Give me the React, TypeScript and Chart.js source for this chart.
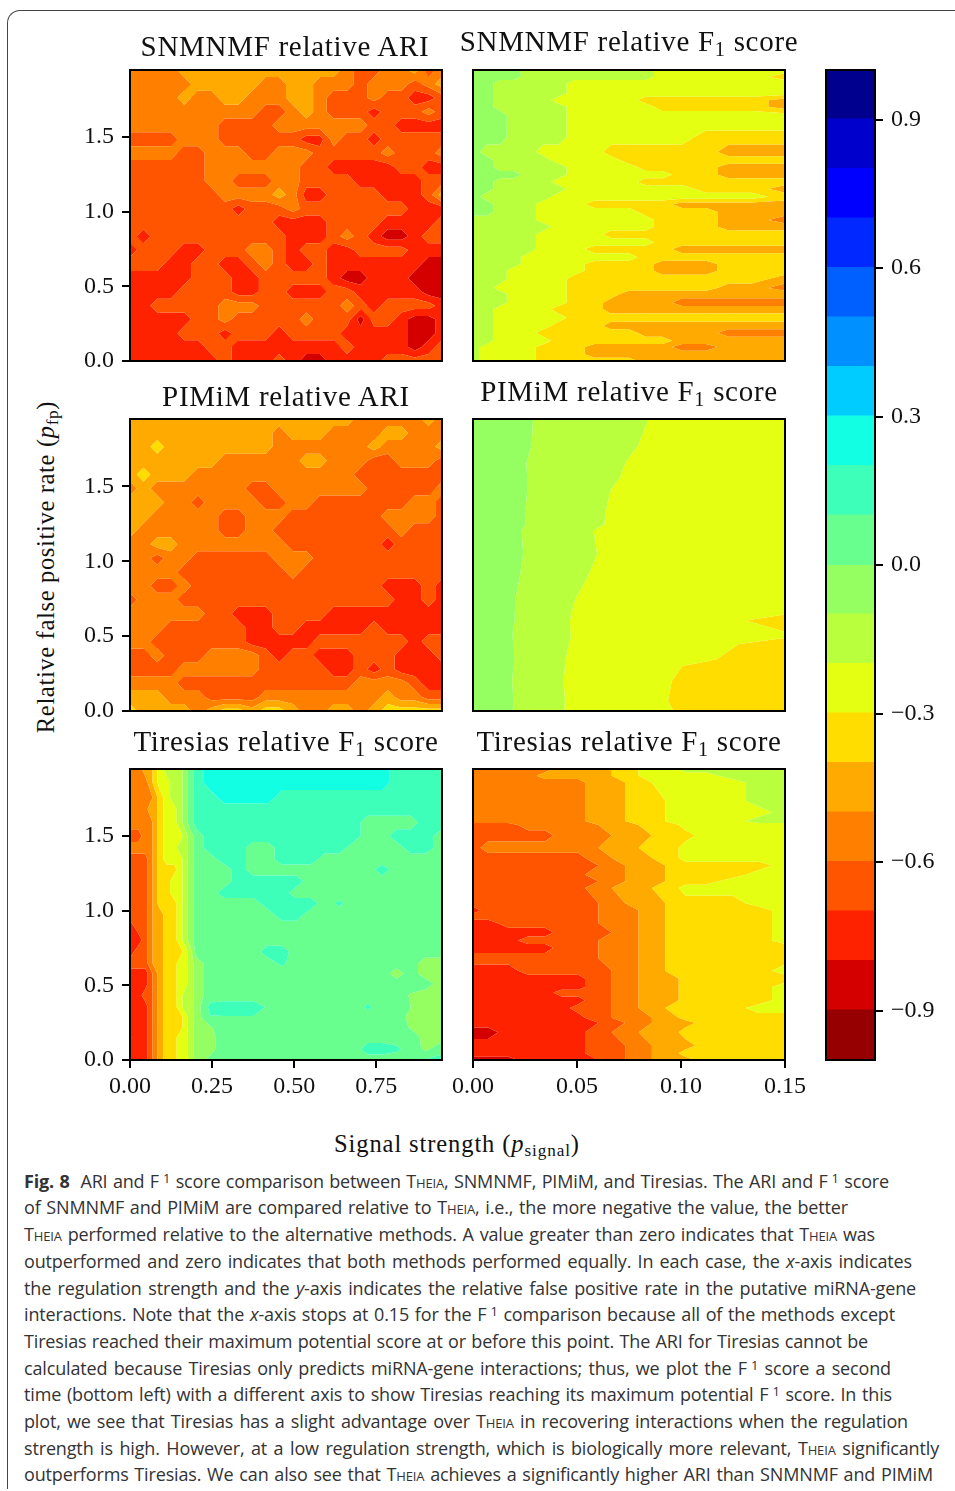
import React, { useEffect, useRef } from "react";
import { Chart, registerables } from "chart.js";

Chart.register(...registerables);

// Contour levels and their colours (bottom to top of the colour bar)
const levels = [-1, -0.9, -0.8, -0.7, -0.6, -0.5, -0.4, -0.3, -0.2, -0.1, 0, 0.1, 0.2, 0.3, 0.4, 0.5, 0.6, 0.7, 0.8, 0.9, 1];
const bandColors = ["#960000", "#d40000", "#ff2200", "#ff5500", "#ff8000", "#ffaa00", "#ffdd00", "#e4ff12", "#b9ff3e", "#95ff62", "#69ff8e", "#3effb9", "#12ffe4", "#00ccff", "#0090ff", "#0060ff", "#0028ff", "#0000ff", "#0000cd", "#00008f"];
const colorbarTicks = [-0.9, -0.6, -0.3, 0, 0.3, 0.6, 0.9];
const yTicks = [0, 0.5, 1, 1.5];
const xTicksWide = [0, 0.25, 0.5, 0.75];
const xTicksNarrow = [0, 0.05, 0.1, 0.15];

// Grid axes. Cell values are colour-band numbers (0 = -1..-0.9, 19 = 0.9..1)
const ariX = [0, 0.041, 0.083, 0.124, 0.165, 0.207, 0.248, 0.289, 0.33, 0.372, 0.413, 0.454, 0.496, 0.537, 0.578, 0.62, 0.661, 0.702, 0.743, 0.785, 0.826, 0.867, 0.909, 0.95];
const ariY = [1.95, 1.857, 1.764, 1.671, 1.579, 1.486, 1.393, 1.3, 1.207, 1.114, 1.021, 0.929, 0.836, 0.743, 0.65, 0.557, 0.464, 0.371, 0.279, 0.186, 0.093, 0];

const snmnmfAri = [
  [4,4,4,4,5,5,5,5,5,5,5,5,5,5,5,5,4,3,3,4,4,5,3,4],
  [4,4,4,4,4,5,5,5,5,5,4,4,5,5,4,4,4,3,4,4,4,3,4,5],
  [4,4,4,4,5,4,4,5,5,4,4,4,5,5,4,3,3,3,4,3,3,2,2,3],
  [4,4,4,4,4,4,4,4,4,4,3,3,4,5,4,3,3,3,2,3,3,3,4,3],
  [4,4,4,4,4,4,4,3,3,3,3,4,4,4,4,4,4,4,3,3,2,2,2,2],
  [3,3,3,3,4,4,4,3,3,3,3,3,3,2,2,4,3,3,2,3,3,3,3,3],
  [4,4,4,4,3,3,4,4,4,3,3,4,4,4,3,3,3,3,3,4,3,3,3,4],
  [3,3,3,3,3,3,4,4,4,4,4,4,4,3,3,2,2,2,2,2,3,3,2,2],
  [3,3,3,3,3,3,4,4,3,3,3,4,4,3,3,3,3,2,2,2,2,2,3,3],
  [3,3,3,3,3,3,3,4,4,4,4,5,4,2,2,3,3,3,3,2,2,2,3,5],
  [3,3,3,3,3,3,3,3,2,3,3,3,4,3,3,3,3,3,3,3,3,2,2,2],
  [3,3,3,3,3,3,3,3,3,3,3,2,2,2,2,3,3,3,3,2,2,2,2,3],
  [3,2,3,3,3,3,3,3,3,3,3,3,2,2,2,3,4,3,2,1,1,2,3,3],
  [2,3,3,3,2,2,3,3,3,4,4,3,2,3,3,2,2,3,3,3,3,2,2,2],
  [3,3,3,2,2,3,3,2,2,3,4,3,2,2,3,2,2,2,2,2,2,2,1,1],
  [2,2,2,2,2,3,3,3,2,2,3,3,3,3,3,2,1,1,2,2,2,1,1,1],
  [2,2,2,2,3,3,3,3,2,2,3,3,2,2,2,3,3,2,2,2,2,2,1,1],
  [2,2,3,3,3,3,3,4,4,4,3,3,3,3,3,3,4,3,2,3,3,3,3,2],
  [2,2,2,2,2,3,3,4,3,3,3,3,3,4,3,3,3,1,3,3,2,1,1,2],
  [2,2,2,2,3,3,3,2,3,3,3,2,3,3,3,3,2,2,2,2,2,1,1,2],
  [2,2,2,2,2,2,3,3,2,2,2,2,2,2,2,2,3,2,2,2,2,1,2,3],
  [2,2,2,2,2,2,2,3,2,2,2,3,2,1,1,2,2,2,2,3,3,3,3,3],
];

const pimimAri = [
  [5,5,5,5,5,5,5,5,5,5,5,5,5,5,5,5,5,4,4,4,4,4,5,4],
  [5,5,5,5,5,5,5,5,5,5,5,4,5,5,5,4,4,4,4,5,5,4,4,4],
  [5,5,6,5,5,5,5,5,5,5,5,4,4,4,4,4,4,4,5,4,4,4,4,5],
  [5,5,5,5,5,5,5,4,4,4,4,4,4,5,5,4,4,4,3,3,4,4,4,3],
  [5,6,5,5,5,4,4,4,4,4,4,4,4,4,4,4,4,3,3,3,3,3,3,3],
  [4,5,4,4,4,4,4,4,4,3,3,4,4,4,4,4,4,4,3,3,3,3,3,4],
  [5,5,5,4,4,3,4,4,4,4,3,3,4,4,3,3,3,3,3,3,3,4,4,3],
  [5,5,4,4,4,4,4,3,3,4,4,4,3,3,3,3,3,3,3,4,4,4,4,3],
  [5,4,4,4,4,4,4,3,3,4,4,3,3,3,3,3,3,3,3,3,4,3,3,3],
  [4,4,5,5,4,4,4,4,4,4,4,4,3,3,3,3,3,3,3,2,3,3,3,3],
  [4,4,3,4,4,3,3,3,3,3,3,4,4,4,3,3,3,3,3,3,3,3,3,3],
  [4,4,4,4,3,3,3,3,3,3,3,3,4,3,3,3,3,3,3,3,3,3,3,3],
  [4,4,3,3,4,3,3,3,3,3,3,3,3,3,3,3,3,3,3,2,2,2,3,2],
  [3,4,4,4,3,3,3,3,3,3,3,3,3,3,3,3,3,3,3,3,2,2,3,2],
  [4,4,4,4,4,4,3,3,2,2,2,3,3,3,3,2,2,2,2,2,2,2,2,2],
  [4,4,4,3,3,3,3,3,3,2,2,3,3,2,2,2,2,2,3,2,2,2,2,2],
  [4,4,3,3,3,3,3,3,3,2,2,2,2,2,3,3,3,3,3,3,3,2,3,3],
  [3,3,4,3,3,3,4,4,4,4,3,2,3,3,2,2,2,3,3,3,2,2,2,3],
  [3,3,3,3,4,4,4,4,4,4,3,3,3,3,3,2,2,3,2,3,2,2,2,2],
  [4,4,4,4,3,3,3,3,3,3,3,3,3,3,3,3,3,4,4,4,4,3,2,2],
  [5,5,5,4,4,4,3,3,3,3,4,4,4,4,4,4,4,4,4,5,4,4,3,3],
  [6,5,5,5,5,4,5,6,6,5,6,6,5,4,4,5,5,4,5,6,6,6,6,6],
];

const snmnmfF1X = [0, 0.0065, 0.013, 0.0195, 0.0265, 0.034, 0.041, 0.049, 0.0585, 0.0665, 0.075, 0.083, 0.091, 0.1005, 0.112, 0.123, 0.134, 0.15];
const snmnmfF1Y = [1.95, 1.905, 1.86, 1.793, 1.748, 1.703, 1.647, 1.59, 1.5, 1.4, 1.345, 1.3, 1.248, 1.2, 1.154, 1.1, 1.05, 1, 0.945, 0.9, 0.85, 0.795, 0.75, 0.695, 0.65, 0.605, 0.55, 0.49, 0.45, 0.39, 0.347, 0.29, 0.235, 0.19, 0.135, 0.094, 0.045, 0];
const snmnmfF1 = [
  [9,9,9,9,8,8,8,8,8,8,8,8,7,7,7,7,7,7],
  [9,9,9,9,8,8,8,8,8,8,8,8,7,7,7,7,7,6],
  [9,9,8,8,8,8,8,7,7,7,7,7,7,7,7,7,7,7],
  [9,9,8,8,8,8,8,7,7,7,7,7,7,7,7,7,7,7],
  [9,9,8,8,8,8,7,7,7,7,7,6,6,6,6,6,6,5],
  [9,9,8,8,8,8,8,7,7,7,7,7,6,6,6,6,6,5],
  [9,9,9,8,8,8,8,7,7,7,7,7,7,7,7,7,7,7],
  [9,9,9,8,8,8,8,7,7,7,7,7,7,7,7,7,7,7],
  [9,9,9,8,8,8,8,7,7,7,7,7,7,7,6,6,6,6],
  [9,8,8,8,8,7,7,7,7,6,6,6,6,6,6,5,5,5],
  [9,9,8,8,8,8,7,7,7,7,6,6,6,6,6,6,6,6],
  [9,9,8,8,8,8,8,7,7,7,7,6,6,6,6,5,5,5],
  [9,9,9,9,8,8,8,7,7,7,7,7,7,6,6,5,5,5],
  [9,9,8,8,8,8,7,7,7,7,7,6,6,6,6,6,6,6],
  [9,9,8,8,8,8,8,7,7,7,7,7,7,7,6,6,6,5],
  [9,8,8,8,8,8,7,7,7,7,7,7,7,7,7,7,7,6],
  [9,9,8,8,8,7,7,7,6,6,6,6,6,5,5,5,5,5],
  [9,9,8,8,8,7,7,7,7,7,7,6,6,6,6,5,5,5],
  [8,8,8,8,8,7,7,7,7,7,7,7,6,6,6,5,5,4],
  [8,8,8,8,8,8,7,7,7,7,7,7,6,6,6,5,5,5],
  [8,8,8,8,8,7,7,7,7,6,6,6,6,6,6,6,6,6],
  [8,8,8,8,8,7,7,7,7,7,7,7,6,6,6,6,6,6],
  [8,8,8,8,8,7,7,7,6,6,6,6,6,5,5,5,5,5],
  [8,8,8,8,7,7,7,7,7,7,7,6,6,6,6,6,6,6],
  [8,8,8,8,7,7,7,7,6,6,6,6,5,5,5,6,6,6],
  [8,8,8,7,7,7,7,7,6,6,6,6,5,5,5,6,6,6],
  [8,8,8,7,7,7,7,6,6,6,6,6,6,6,6,6,6,5],
  [8,8,7,7,7,7,7,6,6,6,6,6,6,6,6,5,5,4],
  [8,8,8,7,7,7,7,6,6,6,5,5,5,5,5,5,5,5],
  [8,8,8,7,7,7,7,6,6,5,5,5,5,4,4,4,4,4],
  [8,8,7,7,7,7,6,6,6,5,5,5,5,5,5,5,5,5],
  [8,8,7,7,7,7,7,6,6,6,6,6,6,6,6,6,6,6],
  [8,8,7,7,7,7,6,6,6,5,5,5,5,5,5,5,5,5],
  [8,8,7,7,7,6,6,6,6,6,6,5,5,5,5,4,4,4],
  [8,8,7,7,7,7,6,6,6,6,6,6,6,5,5,5,5,5],
  [8,7,7,7,7,6,6,6,5,5,5,5,5,4,4,5,5,5],
  [8,7,7,7,7,6,6,6,5,5,5,5,5,5,5,5,5,5],
  [8,7,7,7,7,6,6,6,6,6,6,5,5,5,5,5,5,5],
];

const pimimF1X = [0, 0.0153, 0.0193, 0.0265, 0.0338, 0.041, 0.049, 0.0587, 0.0667, 0.0748, 0.0828, 0.0908, 0.1005, 0.1117, 0.1278, 0.15];
const pimimF1Y = [1.95, 1.77, 1.66, 1.56, 1.48, 1.32, 1.245, 1.205, 1.05, 0.895, 0.76, 0.645, 0.605, 0.527, 0.489, 0.448, 0.347, 0.303, 0.202, 0.067, 0];
const pimimF1 = [
  [9,9,9,8.83,7.83,8,8,8,8,8,7.7,6.7,7,7,7,7],
  [9,9,9,8.72,7.72,8,8,8,8,8.06,7.06,7,7,7,7,7],
  [9,9,9.39,8.39,8,8,8,8,8.3,7.3,7,7,7,7,7,7],
  [9,9,9.43,8.43,8,8,8,8,8,7,7,7,7,7,7,7],
  [9,9,9.46,8.46,8,8,8,8.4,7.45,7,7,7,7,7,7,7],
  [9,9,9.28,8.28,8,8,8,8.1,7.1,7,7,7,7,7,7,7],
  [9,9,9.32,8.32,8,8,8,8.06,7.06,7,7,7,7,7,7,7],
  [9,9,9.06,8.06,8,8,8.42,7.42,7,7,7,7,7,7,7,7],
  [9,9,9.17,8.17,8,8,8,7.62,6.62,7,7,7,7,7,7,7],
  [9,9,8.94,7.94,8,8,8.13,7.13,7,7,7,7,7,7,7,7],
  [9,9,8.66,7.66,8,8,7.55,6.9,7,7,7,7,7,7,7,7],
  [9,9,8.61,7.61,8,8.26,7.26,7,7,7,7,7,7,7,7,6.52],
  [9,9,8.61,7.61,8,8.2,7.2,7,7,7,7,7,7,7,6.645,5.645],
  [9,9.4,8.45,8,8,8.22,7.22,7,7,7,7,7,7,7,7,6.52],
  [9,9.4,8.45,8,8,8.26,7.26,7,7,7,7,7,7,7,7,6.52],
  [9,9,8.54,7.54,8,8.14,7.14,7,7,7,7,7,7,7.4,6.5,6],
  [9,9,8.57,7.57,8,7.94,6.94,7,7,7,7,7,7,6.85,5.85,6],
  [9,9,8.54,7.54,8,7.9,6.9,7,7,7,7,7,6.52,6,6,6],
  [9,9.38,8.38,8,8,7.82,6.82,7,7,7,7,7,6,6,6,6],
  [9,9,8.54,7.54,8,7.9,6.9,7,7,7,7,6.8,5.8,6,6,6],
  [9,9.4,8.45,8,8,7.86,6.86,7,7,7,7,7.08,6.08,6,6,6],
];

const tiresiasWideX = [0, 0.025, 0.046, 0.061, 0.076, 0.091, 0.112, 0.132, 0.152, 0.168, 0.183, 0.203, 0.244, 0.288, 0.331, 0.375, 0.419, 0.462, 0.506, 0.55, 0.593, 0.637, 0.681, 0.724, 0.768, 0.812, 0.855, 0.899, 0.95];
const tiresiasWideY = [1.95, 1.86, 1.759, 1.681, 1.591, 1.501, 1.422, 1.344, 1.276, 1.198, 1.119, 1.051, 0.973, 0.894, 0.804, 0.726, 0.647, 0.58, 0.512, 0.434, 0.355, 0.288, 0.22, 0.153, 0.074, 0];
const tiresiasWide = [
  [4,4,5,5,6,7,8,8,8,9,10,11, 12,12,12,12,12,12,12,12,12,12,12,12,12,11,11,11,11],
  [4,4,4,5,6,7,7,8,8,9,10,11, 12,12,12,12,12,12,12,12,12,12,12,12,12,11,11,11,11],
  [4,4,4,4,5,6,7,8,8,9,10,11, 11,12,12,12,12,11,11,11,11,11,11,11,11,11,11,11,11],
  [4,4,4,5,5,6,7,7,8,9,10,11, 11,11,11,11,11,11,11,11,11,11,11,11,11,11,11,11,11],
  [4,4,4,4,5,6,7,7,8,9,10,11, 11,11,11,11,11,11,11,11,11,11,11,10,10,10,10,11,11],
  [3,3,4,4,5,6,7,7,7,8,9,10, 11,11,11,11,11,11,11,11,11,11,11,10,10,11,11,11,10],
  [4,4,4,4,5,6,7,7,8,8,9,10, 11,11,11,10,10,11,11,11,11,11,10,10,10,10,11,11,10],
  [3,3,3,4,5,6,7,7,7,8,9,10, 10,11,11,10,10,11,11,11,10,10,10,10,10,10,10,10,10],
  [3,3,3,4,5,6,6,6,7,8,9,10, 10,10,11,10,10,10,10,10,10,10,10,10,11,10,10,10,10],
  [3,3,3,4,5,6,6,7,7,8,9,10, 10,10,11,11,11,11,11,10,10,10,10,10,10,10,10,10,10],
  [3,3,3,4,5,6,6,7,7,8,9,10, 10,11,11,11,11,11,10,10,10,10,10,10,10,10,10,10,10],
  [3,3,3,4,5,6,6,6,7,8,9,10, 10,10,10,10,11,11,11,11,10,10.7,10,10,10,10,10,10,10],
  [3,3,3,4,5,5,6,6,7,8,9,10, 10,10,10,10,10,11,11,10,10,10,10,10,10,10,10,10,10],
  [2,3,3,4,5,5,6,6,7,8,9,10, 10,10,10,10,10,10,10,10,10,10,10,10,10,10,10,10,10],
  [2,2,3,4,5,5,6,6,7,8,9,10, 10,10,10,10,10,10,10,10,10,10,10,10,10,10,10,10,10],
  [2,3,3,4,5,5,6,6,6,7,8,10, 10,10,10,10,11,11,10,10,10,10,10,10,10,10,10,10,10],
  [3,3,3,4,5,5,6,6,7,7,8,9, 10,10,10,10,10,10.7,10,10,10,10,10,10,10,10,10,9,9],
  [2,2,2,3,4,5,6,6,7,7,8,9, 10,10,10,10,10,10,10,10,10,10,10,10,10,9,10,9,9],
  [2,2,2,3,4,5,6,6,7,7,8,9, 10,10,10,10,10,10,10,10,10,10,10,10,10,10,10,10,9],
  [2,2,3,3,4,5,6,6,7,8,8,9, 10,10,10,10,10,10,10,10,10,10,10,10,10,10,9.4,9,9.4],
  [2,2,2,3,4,5,6,6,7,8,8,9, 10.8,11,11,11,10.4,10,10,10,10,10,10,10.7,10,10,9.5,9,9],
  [2,2,2,3,4,5,6,6,6,7,8,9, 10.45,10.45,10.45,10.45,10,10,10,10,10,10,10,10,10,10,9.2,9,9],
  [2,2,2,3,4,5,6,6,6,7,8,9, 9.4,10,10,10,10,10,10,10,10,10,10,10,10,10,9.4,9,9],
  [1.4,2,2,3,4,5,6,6,7,7,8,9, 9.2,10,10,10,10,10,10,10,10,10,10,10,10,10,10,9.2,9.2],
  [2,2,2,3,4,5,6,6,7,7,8,9, 9.2,10,10,10,10,10,10,10,10,10,10,11,11,10.7,10,9.3,10],
  [2,2,2,3,4,5,6,6,7,7,8,9, 9.7,10,10,10,10,10,10,10,10,10,10,10,10,10,10,10.6,11],
];

const tiresiasNarrowX = [0, 0.0072, 0.0169, 0.0265, 0.0346, 0.0426, 0.0506, 0.0571, 0.0635, 0.0699, 0.0764, 0.0828, 0.0892, 0.0957, 0.1021, 0.1117, 0.1246, 0.1375, 0.15];
const tiresiasNarrowY = [1.95, 1.905, 1.86, 1.737, 1.658, 1.602, 1.575, 1.505, 1.422, 1.355, 1.303, 1.242, 1.197, 1.152, 1.051, 1.002, 0.962, 0.917, 0.854, 0.8, 0.753, 0.681, 0.598, 0.546, 0.49, 0.452, 0.4, 0.348, 0.283, 0.249, 0.186, 0.097, 0.045, 0];
const tiresiasNarrow = [
  [4,4,4,4,4,5,5,5,5,6,6,7,7,7,8,8,8,8,8],
  [4,4,4,4,5,5,5,5,5,6,6,7,7,7,7,7,8,8,8],
  [4,4,4,4,4,4,4,5,5,5,6,6,7,7,7,7,7,8,8],
  [4,4,4,4,4,4,4,5,5,5,6,6,6,7,7,7,7,8,8],
  [4,4,4,4,4,4,4,5,5,5,6,6,6,7,7,7,7,7,8],
  [4,4,4,4,4,4,4,5,5,5,6,6,6,7,7,7,7,8,8],
  [3,3,3,4,4,4,4,4,5,5,5,6,6,6,7,7,7,7,7],
  [3,3,3,3,3,4,4,4,4,5,5,5,6,6,6,7,7,7,7],
  [3,4,4,4,4,4,4,4,5,5,5,6,6,6,7,7,7,7,7],
  [3,3,3,3,3,3,3,4,4,5,5,5,6,6,7,7,7,7,7],
  [3,3,3,3,3,3,3,3,4,4,5,5,5,6,6,6,6,6,7],
  [3,3,3,3,3,3,3,4,4,4,5,5,5,6,6,6,6,7,7],
  [3,3,3,3,3,3,3,3,4,4,5,5,5,6,6,6,7,7,7],
  [3,3,3,3,3,3,3,4,4,5,5,5,6,6,7,7,7,7,7],
  [3,3,3,3,3,3,3,3,4,4,5,5,5,6,6,6,6,7,7],
  [2,3,3,3,3,3,3,3,4,4,4,5,5,6,6,6,6,6,7],
  [3,3,3,3,3,3,3,3,4,4,4,5,5,6,6,6,6,6,7],
  [2,2,3,3,3,3,3,3,4,4,4,5,5,6,6,6,6,6,7],
  [2,2,2,2,2,3,3,3,3,4,4,5,5,6,6,6,6,6,7],
  [2,2,2,3,3,3,3,3,4,4,4,5,5,6,6,6,6,6,7],
  [2,2,2,2,2,3,3,3,4,4,4,5,5,6,6,6,6,6,6],
  [3,3,3,3,3,3,3,3,4,4,4,5,5,6,6,6,6,6,6],
  [2,2,2,3,3,3,3,3,3,4,4,5,5,6,6,6,6,6,7],
  [2,2,2,2,2,2,2,3,3,4,4,5,5,5,6,6,6,6,6],
  [2,2,2,2,2,2,2,3,3,4,4,5,5,5,6,6,6,6,7],
  [2,2,2,2,2,3,3,3,3,4,4,5,5,5,6,6,6,6,7],
  [2,2,2,2,2,2,2,3,3,4,4,5,5,5,6,6,6,6,7],
  [2,2,2,2,2,2,3,3,3,4,4,5,5,6,6,6,6,7,7],
  [2,2,2,2,2,2,2,3,3,4,4,4,5,5,6,6,6,6,6],
  [2,2,2,2,2,2,2,2,3,3,4,4,5,5,5,6,6,6,6],
  [1,1,2,2,2,2,2,3,3,4,4,5,5,5,6,6,6,6,6],
  [2,2,2,2,2,2,2,3,3,3,4,4,5,5,5,6,6,6,6],
  [2,2,2,2,2,2,2,3,3,3,4,4,5,5,6,6,6,6,6],
  [1,1,1,2,2,2,2,2,3,3,4,4,5,5,5,6,6,6,6],
];

type P3 = [number, number, number];

function clipPolygon(poly: P3[], level: number, above: boolean): P3[] {
  const out: P3[] = [];
  const inside = (p: P3) => (above ? p[2] >= level : p[2] <= level);
  for (let i = 0; i < poly.length; i++) {
    const a = poly[i];
    const b = poly[(i + 1) % poly.length];
    const ia = inside(a);
    const ib = inside(b);
    if (ia) out.push(a);
    if (ia !== ib) {
      const t = (level - a[2]) / (b[2] - a[2]);
      out.push([a[0] + (b[0] - a[0]) * t, a[1] + (b[1] - a[1]) * t, level]);
    }
  }
  return out;
}

// Filled contours, drawn from the dataset's grid nodes through the chart's scales
const contourPlugin = {
  id: "contourFill",
  beforeDatasetsDraw(chart: any) {
    const ds = chart.data.datasets[0];
    const nx: number = ds.gridColumns;
    const pts = ds.data as { x: number; y: number; v: number }[];
    const ny = pts.length / nx;
    const { x: sx, y: sy } = chart.scales;
    const node = (c: number, r: number): P3 => {
      const p = pts[r * nx + c];
      return [sx.getPixelForValue(p.x), sy.getPixelForValue(p.y), p.v];
    };
    const ctx = chart.ctx;
    ctx.save();
    for (let b = 0; b < bandColors.length; b++) {
      const lo = levels[b];
      const hi = levels[b + 1];
      ctx.beginPath();
      let any = false;
      for (let r = 0; r < ny - 1; r++) {
        for (let c = 0; c < nx - 1; c++) {
          const q = [node(c, r), node(c + 1, r), node(c + 1, r + 1), node(c, r + 1)];
          let poly = clipPolygon(q, lo, true);
          if (poly.length > 2) poly = clipPolygon(poly, hi, false);
          if (poly.length < 3) continue;
          any = true;
          ctx.moveTo(poly[0][0], poly[0][1]);
          for (let i = 1; i < poly.length; i++) ctx.lineTo(poly[i][0], poly[i][1]);
          ctx.closePath();
        }
      }
      if (any) {
        ctx.fillStyle = bandColors[b];
        ctx.fill();
      }
    }
    ctx.restore();
  },
};

const framePlugin = {
  id: "panelFrame",
  afterDatasetsDraw(chart: any) {
    const { left, right, top, bottom } = chart.chartArea;
    const ctx = chart.ctx;
    ctx.save();
    ctx.strokeStyle = "#000";
    ctx.lineWidth = 2;
    ctx.strokeRect(left, top, right - left, bottom - top);
    ctx.restore();
  },
};

const SERIF = '"Liberation Serif", serif';
const tickFont = { family: "Liberation Serif", size: 24 };
const M = { left: 60, right: 30, top: 30, bottom: 50 };

function fixedTicks(values: number[]) {
  return (s: any) => {
    s.ticks = values.map((value) => ({ value }));
  };
}

type PanelProps = {
  left: number; top: number; width: number; height: number;
  xs: number[]; ys: number[]; bands: number[][];
  xMax: number; xTicks?: number[]; showY: boolean;
};

function Panel({ left, top, width, height, xs, ys, bands, xMax, xTicks, showY }: PanelProps) {
  const ref = useRef<HTMLCanvasElement>(null);
  useEffect(() => {
    const data: { x: number; y: number; v: number }[] = [];
    ys.forEach((y, r) => xs.forEach((x, c) => data.push({ x, y, v: -1 + 0.1 * (bands[r][c] + 0.5) })));
    const chart = new Chart(ref.current as HTMLCanvasElement, {
      type: "scatter",
      data: { datasets: [{ data, pointRadius: 0, gridColumns: xs.length } as any] },
      plugins: [contourPlugin, framePlugin],
      options: {
        animation: false,
        responsive: false,
        layout: { padding: { left: 0, right: M.right, top: M.top, bottom: 0 } },
        plugins: { legend: { display: false }, tooltip: { enabled: false } },
        scales: {
          x: {
            type: "linear", min: 0, max: xMax, display: !!xTicks,
            afterBuildTicks: fixedTicks(xTicks || []),
            afterFit: (s: any) => { s.height = M.bottom; },
            border: { display: false },
            grid: { drawOnChartArea: false, drawTicks: true, tickLength: 8, tickColor: "#000", tickWidth: 2, lineWidth: 2, color: "#000" },
            ticks: { color: "#111", font: tickFont, padding: 4, maxRotation: 0, autoSkip: false, callback: (v: any) => Number(v).toFixed(2) },
          },
          y: {
            type: "linear", min: 0, max: 1.95, display: showY,
            afterBuildTicks: fixedTicks(yTicks),
            afterFit: (s: any) => { s.width = M.left; },
            border: { display: false },
            grid: { drawOnChartArea: false, drawTicks: true, tickLength: 8, tickColor: "#000", tickWidth: 2, lineWidth: 2, color: "#000" },
            ticks: { color: "#111", font: tickFont, padding: 8, autoSkip: false, callback: (v: any) => Number(v).toFixed(1) },
          },
        },
      } as any,
    });
    return () => chart.destroy();
  }, []);
  const w = width + M.left + M.right;
  const h = height + M.top + M.bottom;
  return <canvas ref={ref} width={w} height={h} style={{ position: "absolute", left: left - M.left, top: top - M.top, width: w, height: h }} />;
}

function ColorBar() {
  const ref = useRef<HTMLCanvasElement>(null);
  useEffect(() => {
    const chart = new Chart(ref.current as HTMLCanvasElement, {
      type: "bar",
      data: {
        labels: [""],
        datasets: bandColors.map((color, i) => ({
          data: [[levels[i], levels[i + 1]]] as any,
          backgroundColor: color,
          grouped: false,
          barPercentage: 1,
          categoryPercentage: 1,
          inflateAmount: 1,
        })),
      },
      plugins: [framePlugin],
      options: {
        animation: false,
        responsive: false,
        layout: { padding: { left: 6, right: 0, top: 30, bottom: 30 } },
        plugins: { legend: { display: false }, tooltip: { enabled: false } },
        scales: {
          x: { display: false },
          y: {
            position: "right", min: -1, max: 1,
            afterBuildTicks: fixedTicks(colorbarTicks),
            afterFit: (s: any) => { s.width = 80; },
            border: { display: false },
            grid: { drawOnChartArea: false, drawTicks: true, tickLength: 8, tickColor: "#000", tickWidth: 2, lineWidth: 2, color: "#000" },
            ticks: {
              color: "#111", font: tickFont, padding: 8, autoSkip: false,
              callback: (v: any) => Number(v).toFixed(1).replace("-", "\u2212").replace("\u22120.0", "0.0"),
            },
          },
        },
      } as any,
    });
    return () => chart.destroy();
  }, []);
  return <canvas ref={ref} width={135} height={1050} style={{ position: "absolute", left: 820, top: 40, width: 135, height: 1050 }} />;
}

const Sub = ({ children }: { children: React.ReactNode }) => (
  <span style={{ fontSize: "0.7em", position: "relative", top: "0.25em" }}>{children}</span>
);
const Sup1 = () => <span style={{ fontSize: "0.72em", position: "relative", top: "-0.42em", marginLeft: 4 }}>1</span>;
const Thi = () => <span style={{ fontVariant: "small-caps" }}>Theia</span>;

function Title({ cx, cy, children }: { cx: number; cy: number; children: React.ReactNode }) {
  return (
    <div style={{ position: "absolute", left: cx - 220, width: 440, top: cy - 20, height: 40, lineHeight: "40px", textAlign: "center", fontFamily: SERIF, fontSize: 29, letterSpacing: 0.7, color: "#111", whiteSpace: "nowrap" }}>
      {children}
    </div>
  );
}

const captionLines: [number, number, React.ReactNode][] = [
  [1181, 889, <><b>Fig. 8</b>&nbsp; ARI and F<Sup1 /> score comparison between <Thi />, SNMNMF, PIMiM, and Tiresias. The ARI and F<Sup1 /> score</>],
  [1207, 848, <>of SNMNMF and PIMiM are compared relative to <Thi />, i.e., the more negative the value, the better</>],
  [1234, 875, <><Thi /> performed relative to the alternative methods. A value greater than zero indicates that <Thi /> was</>],
  [1261, 912, <>outperformed and zero indicates that both methods performed equally. In each case, the <i>x</i>-axis indicates</>],
  [1288, 916, <>the regulation strength and the <i>y</i>-axis indicates the relative false positive rate in the putative miRNA-gene</>],
  [1314, 895, <>interactions. Note that the <i>x</i>-axis stops at 0.15 for the F<Sup1 /> comparison because all of the methods except</>],
  [1341, 868, <>Tiresias reached their maximum potential score at or before this point. The ARI for Tiresias cannot be</>],
  [1368, 891, <>calculated because Tiresias only predicts miRNA-gene interactions; thus, we plot the F<Sup1 /> score a second</>],
  [1394, 892, <>time (bottom left) with a different axis to show Tiresias reaching its maximum potential F<Sup1 /> score. In this</>],
  [1421, 908, <>plot, we see that Tiresias has a slight advantage over <Thi /> in recovering interactions when the regulation</>],
  [1448, 939, <>strength is high. However, at a low regulation strength, which is biologically more relevant, <Thi /> significantly</>],
  [1474, 933, <>outperforms Tiresias. We can also see that <Thi /> achieves a significantly higher ARI than SNMNMF and PIMiM</>],
];

export default function App() {
  return (
    <div style={{ position: "absolute", left: 0, top: 0, width: 955, height: 1491, overflow: "hidden", background: "#fff" }}>
      <div style={{ position: "absolute", left: 7, top: 10, width: 980, height: 1479, border: "1px solid #444", borderRight: "none", borderTopLeftRadius: 13, boxSizing: "border-box", borderBottom: "none" }} />

      <Panel left={130} top={70} width={312} height={291} xs={ariX} ys={ariY} bands={snmnmfAri} xMax={0.95} showY />
      <Panel left={473} top={70} width={312} height={291} xs={snmnmfF1X} ys={snmnmfF1Y} bands={snmnmfF1} xMax={0.15} showY={false} />
      <Panel left={130} top={419} width={312} height={292} xs={ariX} ys={ariY} bands={pimimAri} xMax={0.95} showY />
      <Panel left={473} top={419} width={312} height={292} xs={pimimF1X} ys={pimimF1Y} bands={pimimF1} xMax={0.15} showY={false} />
      <Panel left={130} top={769} width={312} height={291} xs={tiresiasWideX} ys={tiresiasWideY} bands={tiresiasWide} xMax={0.95} xTicks={xTicksWide} showY />
      <Panel left={473} top={769} width={312} height={291} xs={tiresiasNarrowX} ys={tiresiasNarrowY} bands={tiresiasNarrow} xMax={0.15} xTicks={xTicksNarrow} showY={false} />
      <ColorBar />

      <Title cx={285} cy={46}>SNMNMF relative ARI</Title>
      <Title cx={629} cy={41}>SNMNMF relative F<Sub>1</Sub> score</Title>
      <Title cx={286} cy={396}>PIMiM relative ARI</Title>
      <Title cx={629} cy={391}>PIMiM relative F<Sub>1</Sub> score</Title>
      <Title cx={286} cy={741}>Tiresias relative F<Sub>1</Sub> score</Title>
      <Title cx={629} cy={741}>Tiresias relative F<Sub>1</Sub> score</Title>

      <div style={{ position: "absolute", left: 46 - 200, top: 567 - 18, width: 400, height: 36, lineHeight: "36px", textAlign: "center", transform: "rotate(-90deg)", fontFamily: SERIF, fontSize: 24.5, letterSpacing: 0.67, color: "#111", whiteSpace: "nowrap" }}>
        Relative false positive rate (<i>p</i><Sub>fp</Sub>)
      </div>
      <div style={{ position: "absolute", left: 257, width: 400, top: 1126, height: 36, lineHeight: "36px", textAlign: "center", fontFamily: SERIF, fontSize: 24.5, letterSpacing: 0.9, color: "#111", whiteSpace: "nowrap" }}>
        Signal strength (<i>p</i><Sub>signal</Sub>)
      </div>

      {captionLines.map(([cy, end, content], i) => (
        <div key={i} style={{ position: "absolute", left: 24, top: cy - 14, width: end - 24, height: 28, lineHeight: "28px", fontFamily: '"Open Sans", sans-serif', fontSize: 18, letterSpacing: -0.15, color: "#333", textAlign: "justify", textAlignLast: "justify", whiteSpace: "normal" }}>
          {content}
        </div>
      ))}
    </div>
  );
}
